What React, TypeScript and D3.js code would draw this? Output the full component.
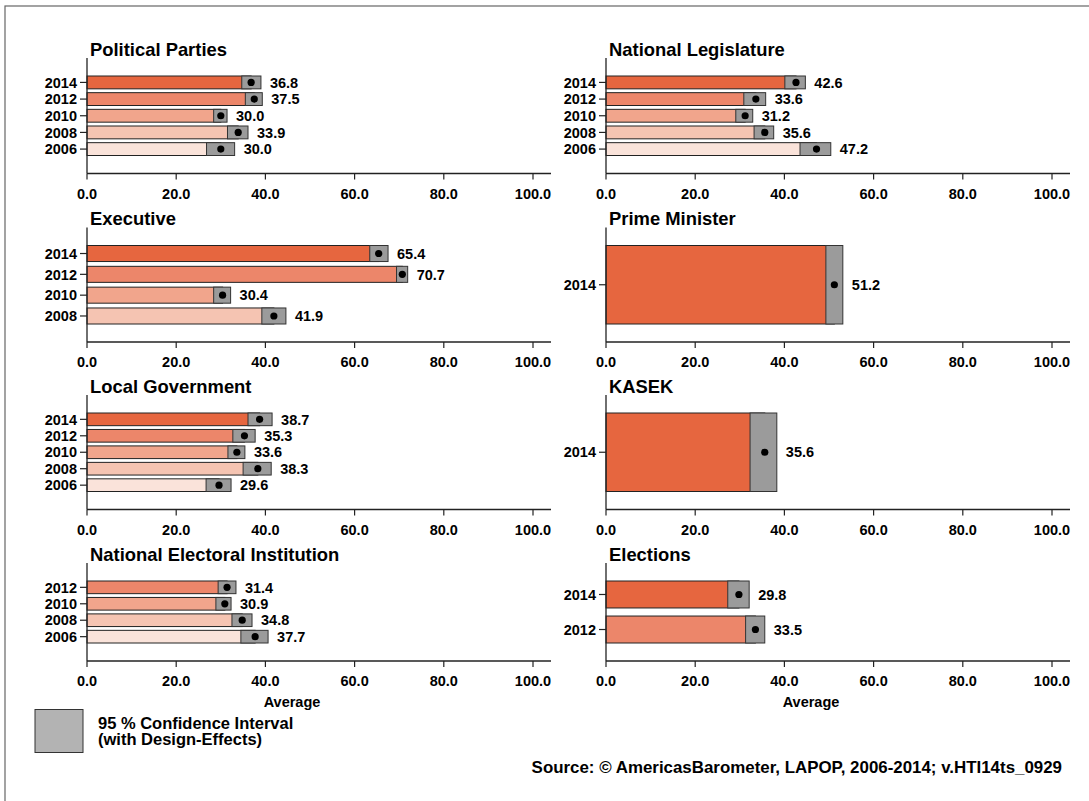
import React from "react";
import * as d3 from "d3";

// ---------- data ----------
const xTicks = [0, 20, 40, 60, 80, 100];

const ppYears = ["2014", "2012", "2010", "2008", "2006"];
const ppMean = [36.8, 37.5, 30.0, 33.9, 30.0];
const ppLow = [34.7, 35.5, 28.4, 31.5, 26.8];
const ppHigh = [39.0, 39.3, 31.4, 36.1, 33.1];

const nlYears = ["2014", "2012", "2010", "2008", "2006"];
const nlMean = [42.6, 33.6, 31.2, 35.6, 47.2];
const nlLow = [40.1, 30.9, 29.1, 33.2, 43.5];
const nlHigh = [44.7, 35.8, 32.9, 37.6, 50.4];

const exYears = ["2014", "2012", "2010", "2008"];
const exMean = [65.4, 70.7, 30.4, 41.9];
const exLow = [63.4, 69.4, 28.4, 39.2];
const exHigh = [67.5, 71.9, 32.2, 44.6];

const pmYears = ["2014"];
const pmMean = [51.2];
const pmLow = [49.3];
const pmHigh = [53.1];

const lgYears = ["2014", "2012", "2010", "2008", "2006"];
const lgMean = [38.7, 35.3, 33.6, 38.3, 29.6];
const lgLow = [36.1, 32.7, 31.6, 35.0, 26.7];
const lgHigh = [41.5, 37.7, 35.4, 41.3, 32.3];

const kaYears = ["2014"];
const kaMean = [35.6];
const kaLow = [32.3];
const kaHigh = [38.3];

const neYears = ["2012", "2010", "2008", "2006"];
const neMean = [31.4, 30.9, 34.8, 37.7];
const neLow = [29.4, 28.9, 32.5, 34.5];
const neHigh = [33.4, 32.3, 37.0, 40.6];

const elYears = ["2014", "2012"];
const elMean = [29.8, 33.5];
const elLow = [27.3, 31.3];
const elHigh = [32.1, 35.6];

const yearColors: Record<string, string> = {
  "2014": "#e6663f",
  "2012": "#ec866a",
  "2010": "#f1a58c",
  "2008": "#f5c4b2",
  "2006": "#fae3da",
};

const FONT = "'Liberation Sans', Arial, Helvetica, sans-serif";

type PanelProps = {
  title: string;
  years: string[];
  mean: number[];
  low: number[];
  high: number[];
  x0: number;
  top: number;
  bottom: number;
  xTitle?: boolean;
};

function Panel({ title, years, mean, low, high, x0, top, bottom, xTitle }: PanelProps) {
  const x = d3.scaleLinear().domain([0, 100]).range([x0, x0 + 446]);
  const y = d3
    .scaleBand<string>()
    .domain(years)
    .range([top + 18, bottom - 18])
    .paddingInner(years.length > 1 ? 0.23 : 0)
    .paddingOuter(0);
  const bw = y.bandwidth();
  const axisEnd = x0 + 464;
  return (
    <g>
      <text
        x={x0 + 3}
        y={top - 2.5}
        fontFamily={FONT}
        fontWeight="bold"
        fontSize={18.4}
        fill="#000"
      >
        {title}
      </text>
      {years.map((yr, i) => {
        const yy = y(yr) as number;
        return (
          <g key={yr}>
            <rect
              x={x(0)}
              y={yy}
              width={x(mean[i]) - x(0)}
              height={bw}
              fill={yearColors[yr]}
              stroke="#222"
              strokeWidth={1}
            />
            <rect
              x={x(low[i])}
              y={yy}
              width={x(high[i]) - x(low[i])}
              height={bw}
              fill="#9b9b9b"
              stroke="#333"
              strokeWidth={1}
            />
            <circle cx={x(mean[i])} cy={yy + bw / 2} r={3.6} fill="#000" />
            <text
              x={x(high[i]) + 9}
              y={yy + bw / 2}
              dy="0.36em"
              fontFamily={FONT}
              fontWeight="bold"
              fontSize={14.5}
              fill="#000"
            >
              {mean[i].toFixed(1)}
            </text>
            <line x1={x0 - 7} x2={x0} y1={yy + bw / 2} y2={yy + bw / 2} stroke="#222" strokeWidth={1.2} />
            <text
              x={x0 - 10}
              y={yy + bw / 2}
              dy="0.36em"
              textAnchor="end"
              fontFamily={FONT}
              fontWeight="bold"
              fontSize={14.5}
              fill="#000"
            >
              {yr}
            </text>
          </g>
        );
      })}
      <line x1={x0} x2={x0} y1={top} y2={bottom} stroke="#222" strokeWidth={1.3} />
      <line x1={x0} x2={axisEnd} y1={bottom} y2={bottom} stroke="#222" strokeWidth={1.3} />
      {xTicks.map((t) => (
        <g key={t}>
          <line x1={x(t)} x2={x(t)} y1={bottom} y2={bottom + 6} stroke="#222" strokeWidth={1.2} />
          <text
            x={x(t)}
            y={bottom + 25}
            textAnchor="middle"
            fontFamily={FONT}
            fontWeight="bold"
            fontSize={14.5}
            fill="#000"
          >
            {t.toFixed(1)}
          </text>
        </g>
      ))}
      {xTitle && (
        <text
          x={x0 + 205}
          y={bottom + 46}
          textAnchor="middle"
          fontFamily={FONT}
          fontWeight="bold"
          fontSize={14.5}
          fill="#000"
        >
          Average
        </text>
      )}
    </g>
  );
}

export default function App() {
  const L = 87;
  const R = 606;
  const rows = [
    { top: 58, bottom: 173.5 },
    { top: 227.5, bottom: 342 },
    { top: 395, bottom: 509.5 },
    { top: 563, bottom: 661 },
  ];
  return (
    <svg
      width={1089}
      height={801}
      style={{ position: "absolute", left: 0, top: 0, background: "#fff" }}
    >
      <rect x={0} y={0} width={1089} height={801} fill="#fff" />
      <rect x={5} y={6} width={1200} height={900} fill="none" stroke="#666" strokeWidth={1.2} />
      <Panel title="Political Parties" years={ppYears} mean={ppMean} low={ppLow} high={ppHigh} x0={L} {...rows[0]} />
      <Panel title="National Legislature" years={nlYears} mean={nlMean} low={nlLow} high={nlHigh} x0={R} {...rows[0]} />
      <Panel title="Executive" years={exYears} mean={exMean} low={exLow} high={exHigh} x0={L} {...rows[1]} />
      <Panel title="Prime Minister" years={pmYears} mean={pmMean} low={pmLow} high={pmHigh} x0={R} {...rows[1]} />
      <Panel title="Local Government" years={lgYears} mean={lgMean} low={lgLow} high={lgHigh} x0={L} {...rows[2]} />
      <Panel title="KASEK" years={kaYears} mean={kaMean} low={kaLow} high={kaHigh} x0={R} {...rows[2]} />
      <Panel title="National Electoral Institution" years={neYears} mean={neMean} low={neLow} high={neHigh} x0={L} {...rows[3]} xTitle />
      <Panel title="Elections" years={elYears} mean={elMean} low={elLow} high={elHigh} x0={R} {...rows[3]} xTitle />

      <rect x={35} y={709.5} width={48} height={43} fill="#b3b3b3" stroke="#333" strokeWidth={1} />
      <text x={98} y={728.5} fontFamily={FONT} fontWeight="bold" fontSize={16.5} fill="#000">
        95 % Confidence Interval
      </text>
      <text x={98} y={745} fontFamily={FONT} fontWeight="bold" fontSize={16.5} fill="#000">
        (with Design-Effects)
      </text>
      <text x={1062} y={772.5} textAnchor="end" fontFamily={FONT} fontWeight="bold" fontSize={16.9} fill="#000">
        Source: © AmericasBarometer, LAPOP, 2006-2014; v.HTI14ts_0929
      </text>
    </svg>
  );
}
